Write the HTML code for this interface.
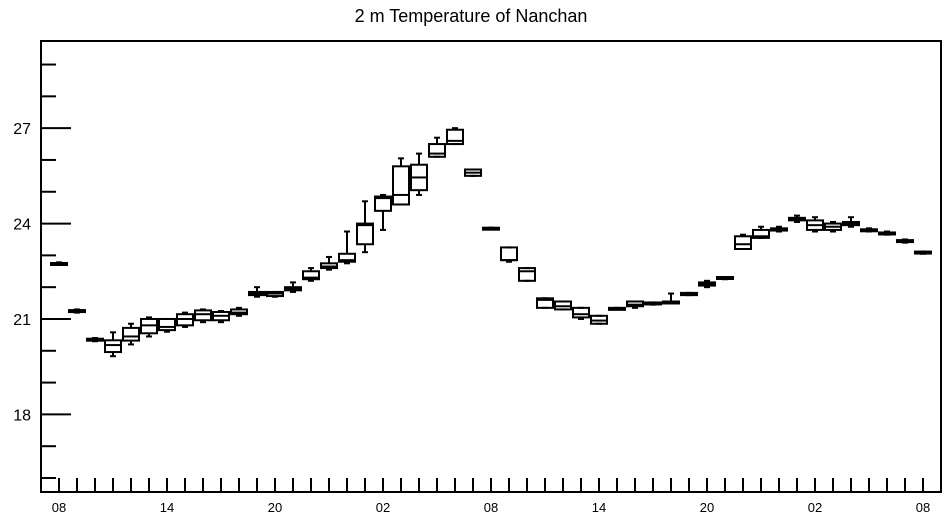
<!DOCTYPE html>
<html><head><meta charset="utf-8"><style>
body{margin:0;background:#fff;}
svg{display:block;font-family:"Liberation Sans",sans-serif;}
</style></head><body>
<svg id="chart" width="947" height="520" viewBox="0 0 947 520">
<text x="471" y="22" font-size="18" text-anchor="middle">2 m Temperature of Nanchan</text>
<rect x="41" y="41" width="900" height="451" fill="none" stroke="#000" stroke-width="2"/>
<g id="axes"></g>
<g id="boxes"></g>
</svg>
<script>
const xLabels=["08","14","20","02","08","14","20","02","08"];
const yTicks=[18,21,24,27];
const lo=[22.7,21.2,20.3,19.83,20.2,20.45,20.6,20.75,20.9,20.9,21.1,21.7,21.7,21.85,22.2,22.55,22.75,23.1,23.8,24.6,24.9,26.1,26.5,25.5,23.85,22.8,22.2,21.35,21.3,21.0,20.85,21.3,21.35,21.45,21.5,21.75,22.0,22.25,23.2,23.55,23.75,24.05,23.75,23.75,23.9,23.75,23.65,23.4,23.05];
const q1=[22.7,21.22,20.32,19.96,20.32,20.55,20.65,20.8,20.96,20.96,21.15,21.75,21.72,21.9,22.25,22.6,22.8,23.35,24.4,24.6,25.05,26.1,26.5,25.5,23.85,22.85,22.2,21.35,21.3,21.05,20.85,21.3,21.4,21.47,21.5,21.75,22.05,22.28,23.2,23.55,23.78,24.1,23.8,23.8,23.95,23.78,23.68,23.42,23.07];
const med=[22.73,21.25,20.35,20.18,20.45,20.8,20.75,21.0,21.15,21.1,21.2,21.8,21.8,21.95,22.3,22.65,22.85,23.95,24.8,24.9,25.45,26.2,26.6,25.6,23.85,22.85,22.5,21.6,21.4,21.15,20.95,21.32,21.45,21.5,21.55,21.78,22.1,22.3,23.35,23.6,23.82,24.15,23.95,23.9,24.0,23.8,23.7,23.45,23.1];
const q3=[22.76,21.28,20.38,20.33,20.72,21.0,21.0,21.15,21.27,21.22,21.3,21.85,21.85,22.0,22.5,22.75,23.05,24.0,24.85,25.8,25.85,26.5,26.95,25.7,23.87,23.25,22.6,21.65,21.55,21.35,21.1,21.35,21.55,21.52,21.55,21.82,22.15,22.32,23.6,23.8,23.85,24.18,24.1,24.0,24.05,23.82,23.72,23.48,23.12];
const hi=[22.78,21.3,20.4,20.58,20.85,21.05,21.0,21.2,21.3,21.25,21.35,22.0,21.85,22.15,22.6,22.95,23.75,24.7,24.9,26.05,26.2,26.7,27.0,25.7,23.87,23.25,22.6,21.65,21.55,21.35,21.1,21.35,21.55,21.52,21.8,21.82,22.2,22.32,23.65,23.9,23.9,24.25,24.2,24.05,24.2,23.85,23.75,23.5,23.12];
const NS="http://www.w3.org/2000/svg";
const X0=41,X1=941,Y0=41,Y1=492;
const yMin=15.56,yMax=29.74;
function xs(i){return 59+i*18;}
function ys(v){return Y1-(v-yMin)/(yMax-yMin)*(Y1-Y0);}
function mk(tag,attrs,parent){const e=document.createElementNS(NS,tag);for(const k in attrs)e.setAttribute(k,attrs[k]);parent.appendChild(e);return e;}
const axes=document.getElementById('axes');
// y ticks (minor every 1 degree)
for(let v=16;v<=29;v++){
  const major=yTicks.includes(v);
  const t=mk('line',{x1:X0,x2:X0+(major?30:15),y1:ys(v),y2:ys(v),stroke:'#000','stroke-width':2},axes);
  
  
}
yTicks.forEach(v=>{
  const t=mk('text',{x:31,y:ys(v)+6,'font-size':16,'text-anchor':'end'},axes);
  t.textContent=v;
  
  
});
for(let i=0;i<lo.length;i++){
  const t=mk('line',{x1:xs(i),x2:xs(i),y1:Y1,y2:Y1-14,stroke:'#000','stroke-width':2},axes);
  
  
}
xLabels.forEach((l,k)=>{
  const t=mk('text',{x:xs(k*6),y:512,'font-size':13,'text-anchor':'middle'},axes);
  t.textContent=l;
  
  
});
const boxes=document.getElementById('boxes');
for(let i=0;i<lo.length;i++){
  const g=mk('g',{stroke:'#000','stroke-width':2,fill:'none'},boxes);
  
  
  const x=xs(i),w=16;
  const yq1=ys(q1[i]),yq3=ys(q3[i]);
  mk('line',{x1:x,x2:x,y1:ys(hi[i]),y2:yq3},g);
  mk('line',{x1:x,x2:x,y1:yq1,y2:ys(lo[i])},g);
  mk('line',{x1:x-3,x2:x+3,y1:ys(hi[i]),y2:ys(hi[i])},g);
  mk('line',{x1:x-3,x2:x+3,y1:ys(lo[i]),y2:ys(lo[i])},g);
  mk('rect',{x:x-w/2,y:yq3,width:w,height:Math.max(yq1-yq3,2)},g);
  mk('line',{x1:x-w/2,x2:x+w/2,y1:ys(med[i]),y2:ys(med[i])},g);
}
</script>
</body></html>
